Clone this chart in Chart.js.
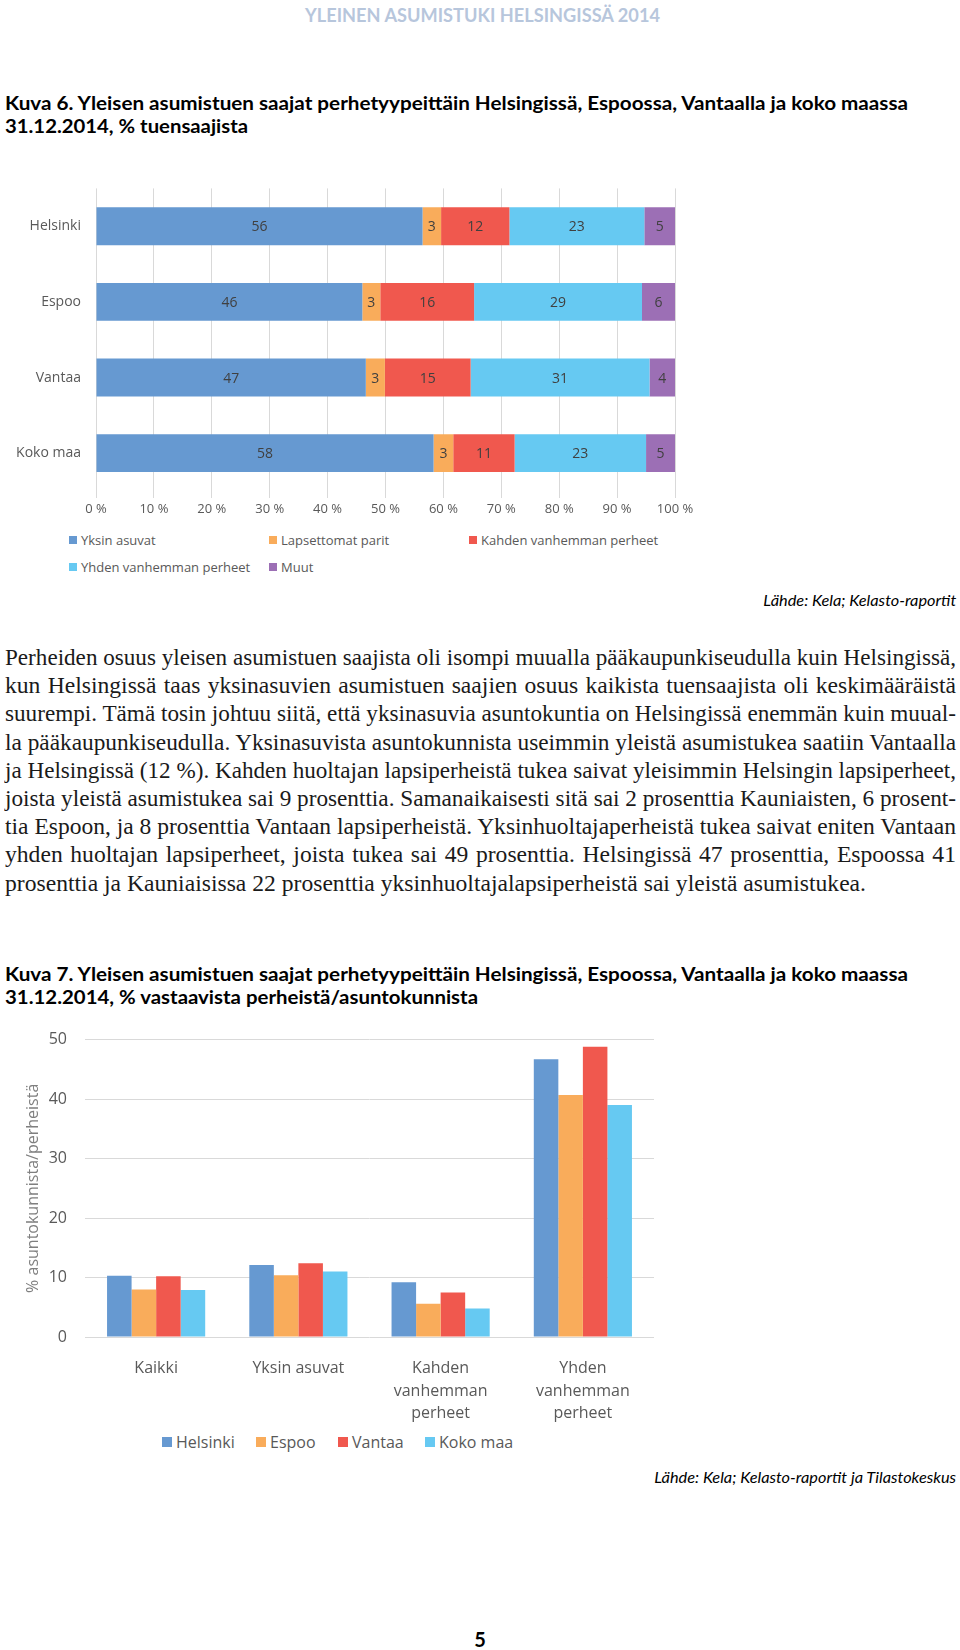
<!DOCTYPE html>
<html lang="fi">
<head>
<meta charset="utf-8">
<title>Yleinen asumistuki Helsingissä 2014</title>
<script src="https://cdn.jsdelivr.net/npm/chart.js@4"></script>
<style>
  body { margin: 0; background: #fff; width: 960px; height: 1650px; position: relative; overflow: hidden; }
  .abs { position: absolute; white-space: nowrap; }
  .header { left: 305px; top: 3px; font-family: Lato, sans-serif; font-weight: bold; font-size: 19px; color: #b7c6dc; transform-origin: left top; }
  .title { left: 5px; font-family: Lato, sans-serif; font-weight: bold; font-size: 19px; color: #000; transform-origin: left top; }
  .source { font-family: Lato, sans-serif; font-style: italic; font-size: 16px; color: #000; transform-origin: right top; }
  .body { left: 5px; top: 643px; width: 951px; font-family: "Liberation Serif", serif; font-size: 23.5px; color: #1a1a1a; }
  .body div { height: 28.2px; line-height: 28.2px; text-align: justify; text-align-last: justify; white-space: nowrap; transform-origin: left top; }
  .body div.last { text-align-last: left; }
  .legend { font-family: "Open Sans", sans-serif; color: #595959; }
  .legend span.item { position: absolute; white-space: nowrap; display: flex; align-items: center; }
  .legend i { display: inline-block; margin-right: 4px; }
  .pagenum { left: 0; width: 960px; text-align: center; top: 1627px; font-family: Lato, sans-serif; font-weight: bold; font-size: 20px; }
</style>
</head>
<body>
<div class="abs header" data-w="355">YLEINEN ASUMISTUKI HELSINGISSÄ 2014</div>

<div class="abs title" style="top:91px" data-w="903">Kuva 6. Yleisen asumistuen saajat perhetyypeittäin Helsingissä, Espoossa, Vantaalla ja koko maassa</div>
<div class="abs title" style="top:114px" data-w="243">31.12.2014, % tuensaajista</div>

<div class="abs" style="left:0;top:165px;width:700px;height:355px"><canvas id="kuva6"></canvas></div>
<div class="abs legend" id="legend6" style="left:0;top:0;width:960px;font-size:13px"></div>

<div class="abs source" style="right:4px;top:590px" data-w="193">Lähde: Kela; Kelasto-raportit</div>

<div class="abs body" id="leipa">
  <div>Perheiden osuus yleisen asumistuen saajista oli isompi muualla pääkaupunkiseudulla kuin Helsingissä,</div>
  <div>kun Helsingissä taas yksinasuvien asumistuen saajien osuus kaikista tuensaajista oli keskimääräistä</div>
  <div>suurempi. Tämä tosin johtuu siitä, että yksinasuvia asuntokuntia on Helsingissä enemmän kuin muual-</div>
  <div>la pääkaupunkiseudulla. Yksinasuvista asuntokunnista useimmin yleistä asumistukea saatiin Vantaalla</div>
  <div>ja Helsingissä (12 %). Kahden huoltajan lapsiperheistä tukea saivat yleisimmin Helsingin lapsiperheet,</div>
  <div>joista yleistä asumistukea sai 9 prosenttia. Samanaikaisesti sitä sai 2 prosenttia Kauniaisten, 6 prosent-</div>
  <div>tia Espoon, ja 8 prosenttia Vantaan lapsiperheistä. Yksinhuoltajaperheistä tukea saivat eniten Vantaan</div>
  <div>yhden huoltajan lapsiperheet, joista tukea sai 49 prosenttia. Helsingissä 47 prosenttia, Espoossa 41</div>
  <div class="last">prosenttia ja Kauniaisissa 22 prosenttia yksinhuoltajalapsiperheistä sai yleistä asumistukea.</div>
</div>

<div class="abs title" style="top:962px" data-w="903">Kuva 7. Yleisen asumistuen saajat perhetyypeittäin Helsingissä, Espoossa, Vantaalla ja koko maassa</div>
<div class="abs title" style="top:985px" data-w="473">31.12.2014, % vastaavista perheistä/asuntokunnista</div>

<div class="abs" style="left:0;top:1012px;width:700px;height:415px"><canvas id="kuva7"></canvas></div>
<div class="abs legend" id="legend7" style="left:0;top:0;width:960px;font-size:16px"></div>

<div class="abs source" style="right:4px;top:1467px" data-w="302">Lähde: Kela; Kelasto-raportit ja Tilastokeskus</div>

<div class="abs pagenum">5</div>

<script>
// Kuva 6: perhetyypit, % tuensaajista
const alueet = ["Helsinki", "Espoo", "Vantaa", "Koko maa"];
const perhetyypit6 = ["Yksin asuvat", "Lapsettomat parit", "Kahden vanhemman perheet", "Yhden vanhemman perheet", "Muut"];
const yksinAsuvat = [56.4, 46.0, 46.6, 58.3];
const lapsettomatParit = [3.2, 3.1, 3.3, 3.4];
const kahdenVanhemman = [11.8, 16.2, 14.8, 10.6];
const yhdenVanhemman = [23.3, 29.0, 30.9, 22.7];
const muut = [5.3, 5.7, 4.4, 5.0];
const prosenttiTicks = [0, 10, 20, 30, 40, 50, 60, 70, 80, 90, 100];

// Kuva 7: % vastaavista perheistä/asuntokunnista
const ryhmat = ["Kaikki", "Yksin asuvat", ["Kahden", "vanhemman", "perheet"], ["Yhden", "vanhemman", "perheet"]];
const helsinki = [10.3, 12.1, 9.2, 46.7];
const espoo = [8.0, 10.4, 5.6, 40.7];
const vantaa = [10.2, 12.4, 7.5, 48.8];
const kokoMaa = [7.9, 11.0, 4.8, 39.0];
const osuusTicks = [0, 10, 20, 30, 40, 50];

const varit = ["#6699d1", "#f9ac5b", "#f0584e", "#66c9f2", "#9c6fb5"];
const harmaa = "#595959";
const viiva = "#d9d9d9";
const fontti = "'Open Sans', sans-serif";

// arvot palkkien keskelle
const arvoLabelit = {
  id: "arvoLabelit",
  afterDatasetsDraw(chart) {
    const ctx = chart.ctx;
    ctx.save();
    ctx.font = "14px " + fontti;
    ctx.fillStyle = "#404040";
    ctx.textAlign = "center";
    ctx.textBaseline = "middle";
    chart.data.datasets.forEach((ds, i) => {
      chart.getDatasetMeta(i).data.forEach((bar, j) => {
        const x = (bar.x + bar.base) / 2;
        ctx.fillText(Math.round(ds.data[j]), x, bar.y + 1);
      });
    });
    ctx.restore();
  }
};

const sarjat6 = [yksinAsuvat, lapsettomatParit, kahdenVanhemman, yhdenVanhemman, muut];

new Chart(document.getElementById("kuva6"), {
  type: "bar",
  data: {
    labels: alueet,
    datasets: sarjat6.map((d, i) => ({
      label: perhetyypit6[i],
      data: d,
      backgroundColor: varit[i],
      barPercentage: 0.5,
      categoryPercentage: 1
    }))
  },
  options: {
    indexAxis: "y",
    responsive: true,
    maintainAspectRatio: false,
    animation: false,
    layout: { padding: { top: 0, right: 25, left: 0, bottom: 0 } },
    plugins: { legend: { display: false }, tooltip: { enabled: false } },
    scales: {
      x: {
        stacked: true,
        min: 0,
        max: 100,
        afterBuildTicks: (s) => { s.ticks = prosenttiTicks.map(v => ({ value: v })); },
        afterFit: (s) => { s.height = 29; },
        grid: { color: viiva, drawTicks: true, tickLength: 7 },
        border: { display: false },
        ticks: { padding: 3, color: harmaa, font: { family: fontti, size: 13 }, callback: (v) => v + " %" }
      },
      y: {
        stacked: true,
        afterFit: (s) => { s.width = 96; },
        grid: { display: false, drawTicks: false },
        border: { display: false },
        ticks: { padding: 15, color: harmaa, font: { family: fontti, size: 14 } }
      }
    }
  },
  plugins: [arvoLabelit]
});

const sarjat7 = [helsinki, espoo, vantaa, kokoMaa];

new Chart(document.getElementById("kuva7"), {
  type: "bar",
  data: {
    labels: ryhmat,
    datasets: sarjat7.map((d, i) => ({
      label: alueet[i],
      data: d,
      backgroundColor: varit[i],
      barPercentage: 1,
      categoryPercentage: 0.69
    }))
  },
  options: {
    responsive: true,
    maintainAspectRatio: false,
    animation: false,
    layout: { padding: { top: 0, right: 46, left: 0, bottom: 0 } },
    plugins: { legend: { display: false }, tooltip: { enabled: false } },
    scales: {
      x: {
        afterFit: (s) => { s.height = 90; },
        grid: { display: false },
        border: { display: false },
        ticks: { padding: 12, color: harmaa, maxRotation: 0, autoSkip: false, font: { family: fontti, size: 16, lineHeight: 1.42 } }
      },
      y: {
        min: 0,
        max: 50,
        afterBuildTicks: (s) => { s.ticks = osuusTicks.map(v => ({ value: v })); },
        afterFit: (s) => { s.width = 85; },
        grid: { color: viiva, drawTicks: false },
        border: { display: false },
        ticks: { padding: 18, color: harmaa, font: { family: fontti, size: 16 } },
        title: {
          display: true,
          text: "% asuntokunnista/perheistä",
          color: "#7f7f7f",
          font: { family: fontti, size: 16 },
          padding: { top: 24, bottom: 0 }
        }
      }
    }
  }
});

// selitteet
function selite(el, nimet, paikat, koko) {
  nimet.forEach((n, i) => {
    const s = document.createElement("span");
    s.className = "item";
    s.style.left = paikat[i][0] + "px";
    s.style.top = paikat[i][1] + "px";
    s.innerHTML = '<i style="width:' + koko + 'px;height:' + koko + 'px;background:' + varit[i] + '"></i>' + n;
    el.appendChild(s);
  });
}
selite(document.getElementById("legend6"), perhetyypit6,
  [[69, 531], [269, 531], [469, 531], [69, 558], [269, 558]], 8);
selite(document.getElementById("legend7"), alueet,
  [[162, 1431], [256, 1431], [338, 1431], [425, 1431]], 10);

// tekstit samanlevyisiksi kuin alkuperäisessä
function sovita() {
  document.querySelectorAll("[data-w]").forEach(el => {
    el.style.transform = "none";
    const w = el.getBoundingClientRect().width;
    el.style.transform = "scaleX(" + (Number(el.dataset.w) / w) + ")";
  });
  // leipäteksti rivi kerrallaan: pitkät rivit kavennetaan, lyhyet tasataan
  const rivit = Array.from(document.querySelectorAll("#leipa div"));
  const leveydet = rivit.map(r => {
    r.style.transform = "none";
    r.style.width = "max-content";
    return r.getBoundingClientRect().width;
  });
  const vika = rivit.length - 1;
  const k = 861 / leveydet[vika];
  rivit.forEach((r, i) => {
    const w = leveydet[i];
    if (i === vika) {
      r.style.transform = "scaleX(" + k + ")";
    } else if (w * k >= 951) {
      r.style.transform = "scaleX(" + (951 / w) + ")";
    } else {
      r.style.width = (951 / k) + "px";
      r.style.transform = "scaleX(" + k + ")";
    }
  });
}
sovita();
document.fonts.ready.then(sovita);
</script>
</body>
</html>
